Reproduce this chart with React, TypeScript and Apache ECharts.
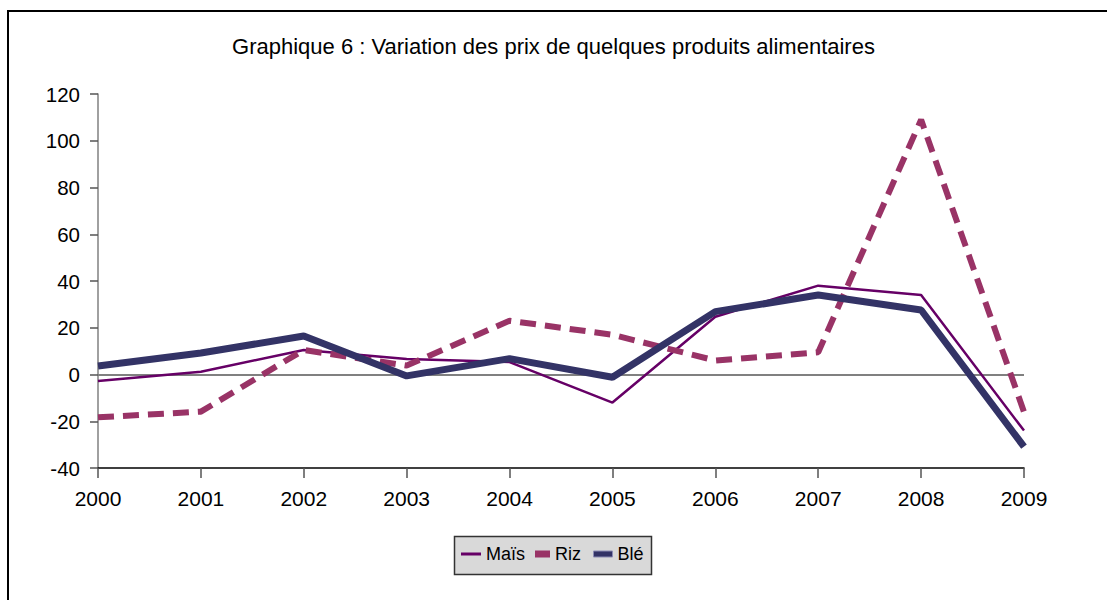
import React, { useEffect, useRef } from "react";
import * as echarts from "echarts";

const years = ["2000", "2001", "2002", "2003", "2004", "2005", "2006", "2007", "2008", "2009"];
const mais = [-2.8, 1.2, 10.5, 6.6, 5.3, -12, 24.7, 38, 34, -24];
const riz = [-18.3, -15.9, 10.5, 3.8, 23, 17, 6, 9.5, 109, -16];
const ble = [3.6, 9.2, 16.5, -0.6, 6.8, -1.2, 26.9, 34, 27.6, -30.9];

const title = "Graphique 6 : Variation des prix de quelques produits alimentaires";
const FONT = "'Liberation Sans', Arial, sans-serif";

export default function App() {
  const ref = useRef<HTMLDivElement>(null);
  useEffect(() => {
    document.body.style.margin = "0";
    const chart = echarts.init(ref.current!, undefined, { renderer: "svg" });
    const legendText = { fontFamily: FONT, fontSize: 18, color: "#000" };
    chart.setOption({
      animation: false,
      backgroundColor: "#fff",
      textStyle: { fontFamily: FONT },
      title: {
        text: title,
        left: "center",
        top: 30,
        textStyle: { fontFamily: FONT, fontSize: 22, fontWeight: "normal", color: "#000" },
      },
      graphic: [
        {
          type: "rect",
          shape: { x: 8, y: 11, width: 1200, height: 700 },
          style: { fill: "none", stroke: "#000", lineWidth: 2 },
          silent: true,
        },
        {
          type: "rect",
          shape: { x: 454.5, y: 536.5, width: 197, height: 38 },
          style: { fill: "#d9d9d9", stroke: "#333", lineWidth: 1.5 },
          silent: true,
          z: 0,
        },
      ],
      grid: { left: 98, right: 83, top: 94, bottom: 132 },
      xAxis: {
        type: "category",
        data: years,
        boundaryGap: false,
        axisLine: { onZero: false, lineStyle: { color: "#000", width: 1.5 } },
        axisTick: { show: true, length: 10, lineStyle: { color: "#555", width: 1.5 } },
        axisLabel: { color: "#000", fontSize: 21, margin: 20, fontFamily: FONT },
        splitLine: { show: false },
      },
      yAxis: {
        type: "value",
        min: -40,
        max: 120,
        interval: 20,
        axisLine: { show: true, lineStyle: { color: "#808080", width: 1.5 } },
        axisTick: { show: true, length: 8, lineStyle: { color: "#555", width: 1.5 } },
        axisLabel: { color: "#000", fontSize: 20.5, margin: 18, fontFamily: FONT },
        splitLine: { show: false },
      },
      legend: [
        {
          data: [{ name: "Maïs", icon: "rect" }],
          left: 461,
          top: 545,
          padding: 0,
          itemWidth: 20,
          itemHeight: 3,
          itemStyle: { borderWidth: 0, borderColor: "transparent" },
          textStyle: legendText,
          selectedMode: false,
        },
        {
          data: [{ name: "Riz", icon: "rect" }],
          left: 535,
          top: 545,
          padding: 0,
          itemWidth: 15,
          itemHeight: 7,
          itemStyle: { borderWidth: 0, borderColor: "transparent" },
          textStyle: legendText,
          selectedMode: false,
        },
        {
          data: [{ name: "Blé", icon: "rect" }],
          left: 593,
          top: 545,
          padding: 0,
          itemWidth: 19,
          itemHeight: 6,
          itemStyle: { borderWidth: 1, borderColor: "#8c8cb4" },
          textStyle: legendText,
          selectedMode: false,
        },
      ],
      series: [
        {
          name: "Maïs",
          type: "line",
          data: mais,
          symbol: "none",
          showSymbol: false,
          color: "#660066",
          lineStyle: { color: "#660066", width: 2.5 },
          z: 2,
          markLine: {
            silent: true,
            z: 1,
            symbol: "none",
            label: { show: false },
            lineStyle: { color: "#808080", width: 2, type: "solid" },
            data: [{ yAxis: 0 }],
          },
        },
        {
          name: "Riz",
          type: "line",
          data: riz,
          symbol: "none",
          showSymbol: false,
          color: "#993366",
          lineStyle: { color: "#993366", width: 6, type: [16, 9], cap: "butt" },
          z: 3,
        },
        {
          name: "Blé",
          type: "line",
          data: ble,
          symbol: "none",
          showSymbol: false,
          color: "#333366",
          lineStyle: { color: "#333366", width: 7 },
          z: 4,
        },
      ],
    });
    return () => chart.dispose();
  }, []);
  return <div ref={ref} style={{ position: "absolute", left: 0, top: 0, width: 1107, height: 600 }} />;
}
